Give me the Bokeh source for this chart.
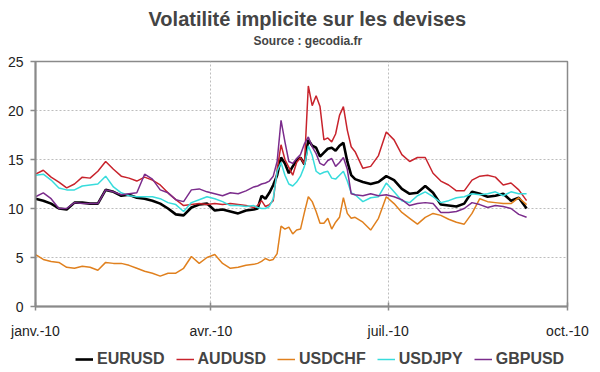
import pandas as pd
from bokeh.plotting import figure
from bokeh.layouts import column
from bokeh.models import Title, Legend, LegendItem, FixedTicker, Range1d
from bokeh.embed import file_html
from bokeh.resources import INLINE

dates = [
    "2010-01-01", "2010-01-05", "2010-01-09", "2010-01-13", "2010-01-17", "2010-01-21", "2010-01-25", "2010-01-29",
    "2010-02-02", "2010-02-06", "2010-02-10", "2010-02-14", "2010-02-18", "2010-02-22", "2010-02-26",
    "2010-03-02", "2010-03-06", "2010-03-10", "2010-03-14", "2010-03-18", "2010-03-22", "2010-03-26", "2010-03-30",
    "2010-04-03", "2010-04-07", "2010-04-11", "2010-04-15", "2010-04-19", "2010-04-23", "2010-04-25", "2010-04-27",
    "2010-04-29", "2010-05-01", "2010-05-03", "2010-05-05", "2010-05-07", "2010-05-09", "2010-05-11", "2010-05-13",
    "2010-05-15", "2010-05-17", "2010-05-19", "2010-05-21", "2010-05-23", "2010-05-25", "2010-05-27", "2010-05-29",
    "2010-05-31", "2010-06-02", "2010-06-04", "2010-06-06", "2010-06-08", "2010-06-10", "2010-06-12", "2010-06-14",
    "2010-06-18", "2010-06-22", "2010-06-26", "2010-06-30", "2010-07-04", "2010-07-08", "2010-07-12", "2010-07-16",
    "2010-07-20", "2010-07-24", "2010-07-28", "2010-08-01", "2010-08-05", "2010-08-09", "2010-08-13", "2010-08-17",
    "2010-08-21", "2010-08-25", "2010-08-29", "2010-09-02", "2010-09-06", "2010-09-10",
]

eurusd = [
    11.0, 10.8, 10.5, 10.0, 9.9, 10.6, 10.6, 10.5, 10.5, 11.9,
    11.7, 11.3, 11.4, 11.1, 11.0, 10.8, 10.5, 10.0, 9.4, 9.3,
    10.1, 10.4, 10.5, 9.8, 9.9, 9.7, 9.5, 9.8, 9.9,
    10.0, 11.3, 11.0, 11.6, 12.4, 13.4, 15.2, 14.6, 13.6, 14.3, 14.9, 15.2, 14.5,
    17.0, 16.4, 16.2, 15.3, 15.7, 16.1, 16.2, 15.9, 16.4, 16.7, 14.8, 13.4, 13.0,
    12.7, 12.5, 12.7, 13.3, 12.9, 12.0, 11.5, 11.6, 12.3, 11.6, 10.4,
    10.3, 10.2, 10.5, 11.7, 11.5, 11.2, 11.3, 11.5, 10.8, 11.1, 10.0,
]
audusd = [
    13.5, 13.9, 13.2, 12.7, 12.1, 12.5, 13.2, 13.1, 13.8, 14.8,
    14.0, 13.3, 13.1, 12.8, 13.2, 12.9, 12.4, 11.6, 10.9, 10.3,
    10.4, 10.5, 10.4, 10.5, 10.4, 10.5, 10.4, 10.3, 10.1,
    10.3, 10.8, 10.2, 10.4, 10.8, 14.0, 16.5, 15.0, 14.2, 13.4, 14.7, 15.2, 14.5,
    22.5, 20.5, 21.5, 20.4, 17.0, 17.2, 16.8, 17.6, 19.5, 20.4, 18.0, 16.3, 15.8,
    14.1, 14.3, 15.4, 17.8, 17.0, 15.5, 14.8, 15.2, 15.2, 13.6, 12.8,
    12.4, 11.8, 11.8, 12.9, 13.3, 13.4, 13.2, 12.4, 12.6, 11.9, 10.8,
]
usdchf = [
    5.3, 4.8, 4.6, 4.5, 4.0, 3.9, 4.1, 4.0, 3.7, 4.5,
    4.4, 4.4, 4.2, 3.9, 3.6, 3.4, 3.1, 3.4, 3.4, 3.9,
    5.1, 4.4, 5.0, 5.3, 4.4, 3.9, 4.0, 4.2, 4.3,
    4.4, 4.6, 4.9, 4.7, 4.8, 5.4, 8.2, 7.9, 8.1, 7.4, 7.8, 7.9, 9.6,
    11.2, 10.7, 9.7, 8.5, 8.5, 9.0, 7.9, 8.6, 9.1, 11.1, 9.5, 9.0, 9.1,
    8.6, 7.8, 9.0, 11.2, 10.5, 9.6, 9.0, 8.4, 9.1, 9.5, 9.3,
    8.9, 8.6, 8.4, 9.5, 11.0, 10.7, 10.6, 10.5, 10.5, 11.1, 10.4,
]
usdjpy = [
    13.4, 13.5, 12.9, 12.1, 11.9, 11.9, 12.3, 12.4, 12.5, 13.3,
    12.2, 11.6, 11.3, 11.2, 11.2, 11.2, 11.0, 10.6, 10.4, 9.7,
    10.6, 10.9, 11.2, 11.0, 10.7, 10.3, 10.3, 10.2, 10.3,
    10.1, 10.0, 10.0, 10.2, 11.0, 13.8, 14.7, 13.4, 12.5, 12.3, 12.7, 13.3, 14.3,
    16.4, 15.4, 13.8, 13.5, 13.7, 13.8, 13.1, 13.0, 13.4, 13.8, 12.8, 11.6, 11.4,
    10.7, 11.1, 11.2, 12.6, 11.7, 10.8, 10.6, 11.3, 11.7, 11.2, 10.6,
    10.8, 11.1, 11.2, 11.5, 11.4, 11.5, 11.7, 11.3, 11.7, 11.5, 11.5,
]
gbpusd = [
    11.2, 11.6, 11.0, 10.0, 10.0, 10.6, 10.5, 10.5, 10.5, 11.9,
    11.7, 11.4, 11.5, 11.6, 13.5, 13.0, 11.9, 11.6, 10.9, 10.7,
    11.9, 12.0, 11.7, 11.5, 11.3, 11.6, 11.5, 11.8, 12.2,
    12.3, 12.5, 12.6, 12.8, 13.3, 14.8, 19.0, 16.8, 14.8, 14.6, 15.1, 15.5, 16.6,
    17.3, 16.3, 15.6, 14.6, 14.4, 14.9, 15.1, 14.3, 14.7, 15.2, 14.0, 11.5, 11.4,
    11.3, 11.5, 11.3, 11.4, 11.2, 10.9, 10.3, 10.5, 10.6, 10.5, 9.6,
    9.6, 9.7, 10.0, 10.6, 10.4, 10.1, 10.3, 10.2, 10.0, 9.4, 9.1,
]

series_names = ["EURUSD", "AUDUSD", "USDCHF", "USDJPY", "GBPUSD"]
series_values = [eurusd, audusd, usdchf, usdjpy, gbpusd]
series_colors = ["#000000", "#c8232c", "#e0801e", "#38dcdc", "#7b2c8c"]
series_widths = [2.6, 1.5, 1.5, 1.5, 1.5]

x_start, x_end = "2010-01-01", "2010-10-01"
tick_dates = ["2010-01-01", "2010-04-01", "2010-07-01", "2010-10-01"]
tick_labels = ["janv.-10", "avr.-10", "juil.-10", "oct.-10"]
y_ticks = [0, 5, 10, 15, 20, 25]

FONT = "Liberation Sans"

x = pd.to_datetime(dates)

# ---------------- main chart ----------------
p = figure(
    width=600, height=344, x_axis_type="datetime",
    output_backend="svg", toolbar_location=None,
    x_range=Range1d(pd.Timestamp(x_start), pd.Timestamp(x_end)),
    y_range=Range1d(0, 25),
    min_border_left=35, min_border_right=33, min_border_top=61, min_border_bottom=38,
)
p.background_fill_color = "white"
p.border_fill_color = "white"
p.outline_line_color = "#8a8a8a"
p.outline_line_width = 1.5

# main title is outermost; added titles stack outward from the frame in order
p.title.text = "Volatilité implicite sur les devises"
p.title.text_font = FONT
p.title.text_font_size = "20px"
p.title.text_font_style = "bold"
p.title.align = "left"
p.title.offset = 113
p.title.standoff = 4
spacer = Title(text=" ", text_font_size="1px", standoff=11)
p.add_layout(spacer, "above")
subtitle = Title(text="Source : gecodia.fr", text_font=FONT,
                 text_font_size="12px", text_font_style="bold",
                 align="left", offset=218, standoff=0)
p.add_layout(subtitle, "above")

for name, vals, col, w in zip(series_names, series_values, series_colors, series_widths):
    p.line(x, vals, line_color=col, line_width=w)

tick_ms = [int(pd.Timestamp(d).timestamp() * 1000) for d in tick_dates]
p.xaxis.ticker = FixedTicker(ticks=tick_ms)
p.xaxis.major_label_overrides = {t: l for t, l in zip(tick_ms, tick_labels)}
p.yaxis.ticker = FixedTicker(ticks=y_ticks)

for ax in (p.xaxis[0], p.yaxis[0]):
    ax.axis_line_color = "#8a8a8a"
    ax.axis_line_width = 2
    ax.major_tick_line_color = "#8a8a8a"
    ax.major_tick_line_width = 1.5
    ax.minor_tick_line_color = None
    ax.major_label_text_font = FONT
    ax.major_label_text_font_size = "14px"
    ax.major_label_text_color = "#222222"

p.yaxis.major_tick_in = 0
p.yaxis.major_tick_out = 5
p.yaxis.major_label_standoff = 7
p.xaxis.major_tick_in = 4
p.xaxis.major_tick_out = 4
p.xaxis.major_label_standoff = 12

for g in (p.xgrid[0], p.ygrid[0]):
    g.grid_line_color = "#bdbdbd"
    g.grid_line_dash = "2 2"
    g.grid_line_width = 1

# ---------------- legend strip ----------------
lg = figure(
    width=600, height=28, output_backend="svg", toolbar_location=None,
    x_axis_location=None, y_axis_location=None,
    x_range=Range1d(0, 1), y_range=Range1d(0, 1),
    min_border_left=0, min_border_right=0, min_border_top=0, min_border_bottom=0,
)
lg.outline_line_color = None
lg.xgrid.visible = False
lg.ygrid.visible = False
lg.background_fill_color = "white"
lg.border_fill_color = "white"

items = []
for name, vals, col, w in zip(series_names, series_values, series_colors, series_widths):
    # same series, outside this strip's visible range: only its legend glyph shows
    r = lg.line(x, vals, line_color=col, line_width=w)
    items.append(LegendItem(label=name, renderers=[r]))

legend = Legend(
    items=items, orientation="horizontal", location=(40, 4),
    label_text_font=FONT, label_text_font_style="bold", label_text_font_size="16px",
    glyph_width=18, glyph_height=16, label_standoff=4, spacing=11,
    padding=0, margin=0, border_line_color=None, background_fill_alpha=0,
)
lg.add_layout(legend)

layout = column(p, lg, spacing=0)
open("out.html", "w").write(file_html(layout, INLINE))
